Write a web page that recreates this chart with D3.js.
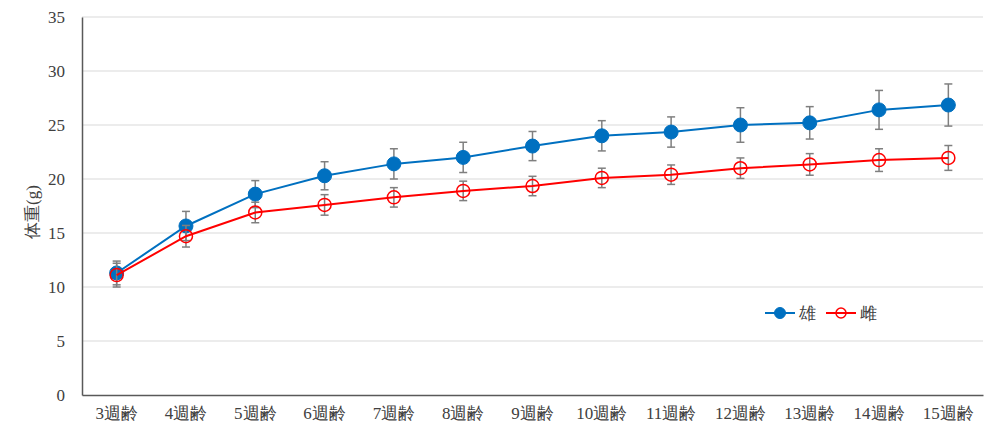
<!DOCTYPE html>
<html><head><meta charset="utf-8">
<script src="https://cdn.jsdelivr.net/npm/d3@7"></script>
<style>body{margin:0;background:#fff;}</style>
</head>
<body><svg id="c" width="1000" height="437" font-family="Liberation Serif, serif"></svg>
<script>
const categories = ["3週齢","4週齢","5週齢","6週齢","7週齢","8週齢","9週齢","10週齢","11週齢","12週齢","13週齢","14週齢","15週齢"];
const maleValues = [11.3,15.65,18.6,20.3,21.4,22.0,23.05,24.0,24.35,25.0,25.2,26.4,26.85];
const maleErrors = [1.1,1.35,1.25,1.3,1.4,1.4,1.35,1.4,1.4,1.6,1.5,1.8,1.95];
const femaleValues = [11.1,14.7,16.9,17.6,18.3,18.9,19.35,20.1,20.4,21.0,21.35,21.75,21.95];
const femaleErrors = [1.1,1.0,0.95,0.95,0.9,0.9,0.9,0.9,0.9,0.95,1.0,1.05,1.15];
const yTicks = [0,5,10,15,20,25,30,35];
const seriesNames = ["雄","雌"];

const FONT = "Liberation Serif, serif";
const TXT = "#404040";
const svg = d3.select("#c");
const L = 82, R = 983, T = 17, B = 395;
const x = d3.scaleBand().domain(categories).range([L,R]);
const y = d3.scaleLinear().domain([0,35]).range([B,T]);
const cx = d => x(d) + x.bandwidth()/2;

svg.append("g").selectAll("line").data(yTicks.filter(v=>v>0)).join("line")
  .attr("x1",L).attr("x2",R).attr("y1",d=>y(d)).attr("y2",d=>y(d))
  .attr("stroke","#d9d9d9").attr("stroke-width",1);

const yAxis = svg.append("g").attr("transform",`translate(${L},0)`)
  .call(d3.axisLeft(y).tickValues(yTicks).tickSize(0).tickPadding(17));
yAxis.attr("font-family",FONT).attr("font-size",17);
yAxis.select(".domain").attr("stroke","#595959").attr("stroke-width",1.5);
yAxis.selectAll("text").attr("fill",TXT).attr("font-family",FONT);

const xAxis = svg.append("g").attr("transform",`translate(0,${B})`)
  .call(d3.axisBottom(x).tickSize(0).tickPadding(12));
xAxis.attr("font-family",FONT).attr("font-size",17);
xAxis.select(".domain").attr("stroke","#595959").attr("stroke-width",1.5);
xAxis.selectAll("text").attr("fill",TXT).attr("font-family",FONT);

svg.append("text").attr("transform","translate(38,212) rotate(-90)")
  .attr("text-anchor","middle").attr("font-size",17).attr("font-family",FONT)
  .attr("fill",TXT).text("体重(g)");

function drawSeries(vals, errs, color, filled){
  const g = svg.append("g");
  const data = categories.map((c,i)=>({c, v:vals[i], e:errs[i]}));
  const eb = g.append("g").attr("stroke","#7f7f7f").attr("stroke-width",1.5);
  eb.selectAll("line.v").data(data).join("line").attr("class","v")
    .attr("x1",d=>cx(d.c)).attr("x2",d=>cx(d.c))
    .attr("y1",d=>y(d.v+d.e)).attr("y2",d=>y(d.v-d.e));
  eb.selectAll("line.t").data(data).join("line").attr("class","t")
    .attr("x1",d=>cx(d.c)-4).attr("x2",d=>cx(d.c)+4)
    .attr("y1",d=>y(d.v+d.e)).attr("y2",d=>y(d.v+d.e));
  eb.selectAll("line.b").data(data).join("line").attr("class","b")
    .attr("x1",d=>cx(d.c)-4).attr("x2",d=>cx(d.c)+4)
    .attr("y1",d=>y(d.v-d.e)).attr("y2",d=>y(d.v-d.e));
  g.append("path").datum(data)
    .attr("d",d3.line().x(d=>cx(d.c)).y(d=>y(d.v)))
    .attr("fill","none").attr("stroke",color).attr("stroke-width",2);
  g.selectAll("circle").data(data).join("circle")
    .attr("cx",d=>cx(d.c)).attr("cy",d=>y(d.v))
    .attr("r", filled?7:6.5)
    .attr("fill", filled?color:"none")
    .attr("stroke", color).attr("stroke-width", filled?1:1.5);
}
drawSeries(maleValues, maleErrors, "#0070C0", true);
drawSeries(femaleValues, femaleErrors, "#FF0000", false);

const lg = svg.append("g");
const legendItems = [
  {name:seriesNames[0], color:"#0070C0", filled:true, x0:765},
  {name:seriesNames[1], color:"#FF0000", filled:false, x0:826}
];
legendItems.forEach(it=>{
  lg.append("line").attr("x1",it.x0).attr("x2",it.x0+30).attr("y1",313).attr("y2",313)
    .attr("stroke",it.color).attr("stroke-width",2);
  lg.append("circle").attr("cx",it.x0+15).attr("cy",313).attr("r",it.filled?5.5:5)
    .attr("fill",it.filled?it.color:"none").attr("stroke",it.color).attr("stroke-width",it.filled?1:1.5);
  lg.append("text").attr("x",it.x0+34).attr("y",319).attr("font-size",17)
    .attr("font-family",FONT).attr("fill",TXT).text(it.name);
});
</script></body></html>
